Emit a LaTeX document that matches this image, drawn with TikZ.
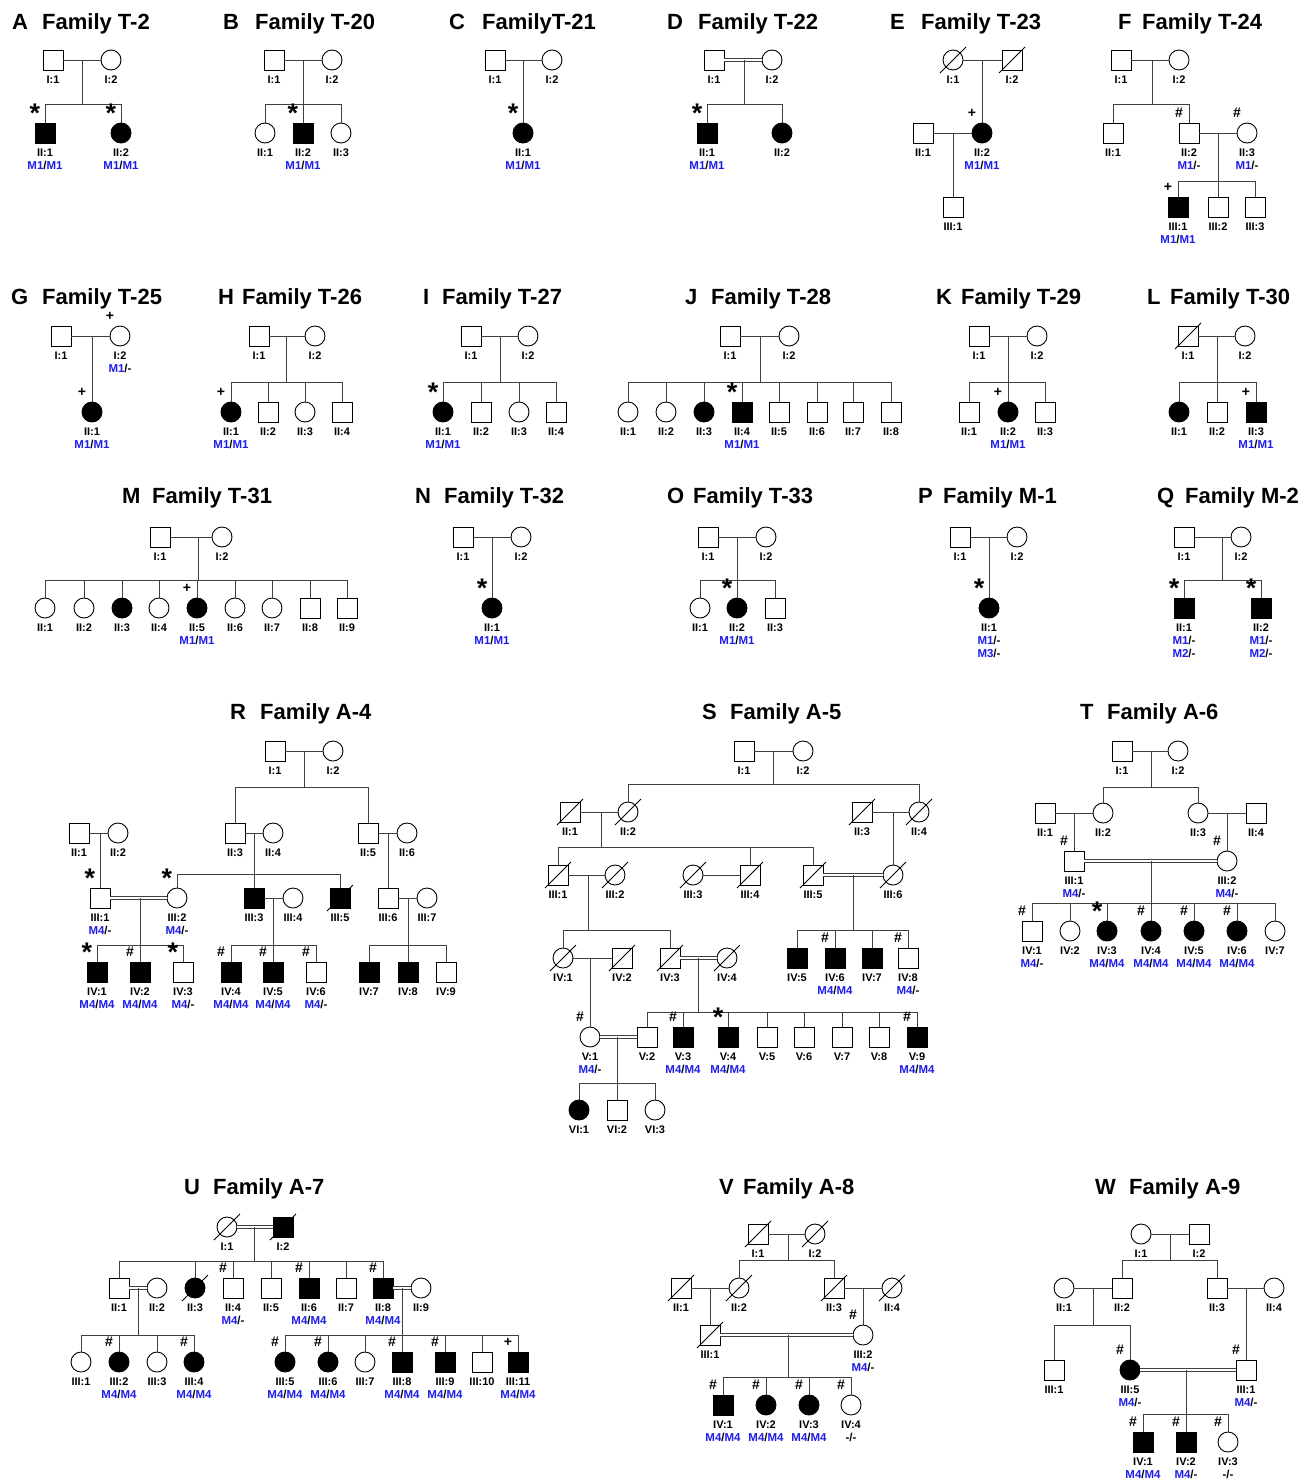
\documentclass[tikz,border=0pt]{standalone}
\usepackage{fontspec}
\setmainfont{Liberation Sans}
\usetikzlibrary{calc}
\definecolor{gb}{RGB}{30,30,235}
\newcommand\Lf{\fontsize{11}{11}\selectfont\bfseries}
\newcommand\Gf{\fontsize{11.5}{11.5}\selectfont\bfseries}
\newcommand\Tf{\fontsize{22}{22}\selectfont\bfseries}
\newcommand\HA{\textcolor{gb}{M1}/\textcolor{gb}{M1}}
\newcommand\hA{\textcolor{gb}{M1}/-}
\newcommand\HD{\textcolor{gb}{M4}/\textcolor{gb}{M4}}
\newcommand\hD{\textcolor{gb}{M4}/-}
\newcommand\St{{\fontsize{27}{27}\selectfont *}}
\tikzset{
 sym/.style={draw=black,line width=0.9pt,fill=white,inner sep=0pt,outer sep=0pt},
 male/.style={sym,rectangle,minimum size=20pt},
 female/.style={sym,circle,minimum size=20pt},
 aff/.style={fill=black},
 ln/.style={line width=0.8pt,draw=black!75},
 cons/.style={ln,double,double distance=2pt},
 lab/.style={font=\Lf,inner sep=0pt,anchor=base},
 gen/.style={font=\Gf,inner sep=0pt,anchor=base},
 mk/.style={inner sep=0pt,font=\fontsize{14}{14}\selectfont\bfseries},
 ttl/.style={font=\Tf,inner sep=0pt,anchor=base west},
 dl/.style={line width=0.8pt,draw=black}
}
\newcommand\Ma[4][]{\node[male,#1] (#2) at (#3) {};\node[lab] (#2l) at ($(#2.center)+(0,23.5)$) {#4};}
\newcommand\Fe[4][]{\node[female,#1] (#2) at (#3) {};\node[lab] (#2l) at ($(#2.center)+(0,23.5)$) {#4};}
\newcommand\Ge[2]{\node[gen] (#1g) at ($(#1.center)+(0,36.5)$) {#2};}
\newcommand\Gb[2]{\node[gen] (#1h) at ($(#1.center)+(0,49)$) {#2};}
\newcommand\Mk[2]{\node[mk] (#1m) at ($(#1.center)+(-10,-20)$) {#2};}
\newcommand\Dead[1]{\draw[dl] ($(#1.center)+(-13,13)$) -- ($(#1.center)+(13,-13)$);}
\newcommand\Fam[5]{\coordinate (#1) at (#2,#3);\coordinate (#1s) at (#2,#4);\draw[ln] (#1) -- (#1s);\foreach \c in {#5}{\draw[ln] (\c.north) |- (#1s);}}
\newcommand\Des[4]{\coordinate (#1) at (#2,#3);\draw[ln] (#1) -- (#4.north);}
\newcommand\Mar[2]{\draw[ln] (#1) -- (#2);}
\newcommand\Con[2]{\draw[cons] (#1) -- (#2);}
\newcommand\Ttl[6]{\node[ttl] (#1a) at (#2,#6) {#3};\node[ttl] (#1b) at (#4,#6) {#5};}
\begin{document}
\begin{tikzpicture}[x=1pt,y=-1pt]
\fill[white] (0,0) rectangle (1312,1481);
\useasboundingbox (0,0) rectangle (1312,1481);
% ---------------- A
\Ttl{A}{12}{A}{42}{Family T-2}{29}
\Ma{aI1}{53,60}{I:1}\Fe{aI2}{111,60}{I:2}
\Ma[aff]{aII1}{45,133}{II:1}\Fe[aff]{aII2}{121,133}{II:2}
\Mar{aI1}{aI2}\Fam{aD}{82}{60}{104}{aII1,aII2}
\Mk{aII1}{\St}\Mk{aII2}{\St}\Ge{aII1}{\HA}\Ge{aII2}{\HA}
% ---------------- B
\Ttl{B}{223}{B}{255}{Family T-20}{29}
\Ma{bI1}{274,60}{I:1}\Fe{bI2}{332,60}{I:2}
\Fe{bII1}{265,133}{II:1}\Ma[aff]{bII2}{303,133}{II:2}\Fe{bII3}{341,133}{II:3}
\Mar{bI1}{bI2}\Fam{bD}{303}{60}{104}{bII1,bII2,bII3}
\Mk{bII2}{\St}\Ge{bII2}{\HA}
% ---------------- C
\Ttl{C}{449}{C}{482}{FamilyT-21}{29}
\Ma{cI1}{495,60}{I:1}\Fe{cI2}{552,60}{I:2}\Fe[aff]{cII1}{523,133}{II:1}
\Mar{cI1}{cI2}\Des{cD}{523}{60}{cII1}
\Mk{cII1}{\St}\Ge{cII1}{\HA}
% ---------------- D
\Ttl{D}{667}{D}{698}{Family T-22}{29}
\Ma{dI1}{714,60}{I:1}\Fe{dI2}{772,60}{I:2}
\Ma[aff]{dII1}{707,133}{II:1}\Fe[aff]{dII2}{782,133}{II:2}
\Con{dI1}{dI2}\Fam{dD}{744}{60}{104}{dII1,dII2}
\Mk{dII1}{\St}\Ge{dII1}{\HA}
% ---------------- E
\Ttl{E}{890}{E}{921}{Family T-23}{29}
\Fe{eI1}{953,60}{I:1}\Ma{eI2}{1012,60}{I:2}
\Ma{eII1}{923,133}{II:1}\Fe[aff]{eII2}{982,133}{II:2}\Ma{eIII1}{953,207}{III:1}
\Dead{eI1}\Dead{eI2}
\Mar{eI1}{eI2}\Des{eD}{982}{60}{eII2}\Mar{eII1}{eII2}\Des{eDb}{953}{133}{eIII1}
\Mk{eII2}{+}\Ge{eII2}{\HA}
% ---------------- F
\Ttl{F}{1118}{F}{1142}{Family T-24}{29}
\Ma{fI1}{1121,60}{I:1}\Fe{fI2}{1179,60}{I:2}
\Ma{fII1}{1113,133}{II:1}\Ma{fII2}{1189,133}{II:2}\Fe{fII3}{1247,133}{II:3}
\Ma[aff]{fIII1}{1178,207}{III:1}\Ma{fIII2}{1218,207}{III:2}\Ma{fIII3}{1255,207}{III:3}
\Mar{fI1}{fI2}\Fam{fD}{1152}{60}{104}{fII1,fII2}
\Mar{fII2}{fII3}\Fam{fDb}{1218}{133}{181}{fIII1,fIII2,fIII3}
\Mk{fII2}{\#}\Mk{fII3}{\#}\Mk{fIII1}{+}
\Ge{fII2}{\hA}\Ge{fII3}{\hA}\Ge{fIII1}{\HA}
% ---------------- G
\Ttl{G}{11}{G}{42}{Family T-25}{304}
\Ma{gI1}{61,336}{I:1}\Fe{gI2}{120,336}{I:2}\Fe[aff]{gII1}{92,412}{II:1}
\Mar{gI1}{gI2}\Des{gD}{92}{336}{gII1}
\Mk{gI2}{+}\Mk{gII1}{+}\Ge{gI2}{\hA}\Ge{gII1}{\HA}
% ---------------- H
\Ttl{H}{218}{H}{242}{Family T-26}{304}
\Ma{hI1}{259,336}{I:1}\Fe{hI2}{315,336}{I:2}
\Fe[aff]{hII1}{231,412}{II:1}\Ma{hII2}{268,412}{II:2}\Fe{hII3}{305,412}{II:3}\Ma{hII4}{342,412}{II:4}
\Mar{hI1}{hI2}\Fam{hD}{286}{336}{382}{hII1,hII2,hII3,hII4}
\Mk{hII1}{+}\Ge{hII1}{\HA}
% ---------------- I
\Ttl{I}{423}{I}{442}{Family T-27}{304}
\Ma{iI1}{471,336}{I:1}\Fe{iI2}{528,336}{I:2}
\Fe[aff]{iII1}{443,412}{II:1}\Ma{iII2}{481,412}{II:2}\Fe{iII3}{519,412}{II:3}\Ma{iII4}{556,412}{II:4}
\Mar{iI1}{iI2}\Fam{iD}{500}{336}{382}{iII1,iII2,iII3,iII4}
\Mk{iII1}{\St}\Ge{iII1}{\HA}
% ---------------- J
\Ttl{J}{685}{J}{711}{Family T-28}{304}
\Ma{jI1}{730,336}{I:1}\Fe{jI2}{789,336}{I:2}
\Fe{jII1}{628,412}{II:1}\Fe{jII2}{666,412}{II:2}\Fe[aff]{jII3}{704,412}{II:3}\Ma[aff]{jII4}{742,412}{II:4}
\Ma{jII5}{779,412}{II:5}\Ma{jII6}{817,412}{II:6}\Ma{jII7}{853,412}{II:7}\Ma{jII8}{891,412}{II:8}
\Mar{jI1}{jI2}\Fam{jD}{760}{336}{382}{jII1,jII2,jII3,jII4,jII5,jII6,jII7,jII8}
\Mk{jII4}{\St}\Ge{jII4}{\HA}
% ---------------- K
\Ttl{K}{936}{K}{961}{Family T-29}{304}
\Ma{kI1}{979,336}{I:1}\Fe{kI2}{1037,336}{I:2}
\Ma{kII1}{969,412}{II:1}\Fe[aff]{kII2}{1008,412}{II:2}\Ma{kII3}{1045,412}{II:3}
\Mar{kI1}{kI2}\Fam{kD}{1008}{336}{382}{kII1,kII2,kII3}
\Mk{kII2}{+}\Ge{kII2}{\HA}
% ---------------- L
\Ttl{L}{1147}{L}{1170}{Family T-30}{304}
\Ma{lI1}{1188,336}{I:1}\Fe{lI2}{1245,336}{I:2}
\Fe[aff]{lII1}{1179,412}{II:1}\Ma{lII2}{1217,412}{II:2}\Ma[aff]{lII3}{1256,412}{II:3}
\Dead{lI1}\Mar{lI1}{lI2}\Fam{lD}{1217}{336}{382}{lII1,lII2,lII3}
\Mk{lII3}{+}\Ge{lII3}{\HA}
% ---------------- M
\Ttl{M}{122}{M}{152}{Family T-31}{503}
\Ma{mI1}{160,537}{I:1}\Fe{mI2}{222,537}{I:2}
\Fe{mII1}{45,608}{II:1}\Fe{mII2}{84,608}{II:2}\Fe[aff]{mII3}{122,608}{II:3}\Fe{mII4}{159,608}{II:4}
\Fe[aff]{mII5}{197,608}{II:5}\Fe{mII6}{235,608}{II:6}\Fe{mII7}{272,608}{II:7}\Ma{mII8}{310,608}{II:8}\Ma{mII9}{347,608}{II:9}
\Mar{mI1}{mI2}\Fam{mD}{198}{537}{580}{mII1,mII2,mII3,mII4,mII5,mII6,mII7,mII8,mII9}
\Mk{mII5}{+}\Ge{mII5}{\HA}
% ---------------- N
\Ttl{N}{415}{N}{444}{Family T-32}{503}
\Ma{nI1}{463,537}{I:1}\Fe{nI2}{521,537}{I:2}\Fe[aff]{nII1}{492,608}{II:1}
\Mar{nI1}{nI2}\Des{nD}{492}{537}{nII1}
\Mk{nII1}{\St}\Ge{nII1}{\HA}
% ---------------- O
\Ttl{O}{667}{O}{693}{Family T-33}{503}
\Ma{oI1}{708,537}{I:1}\Fe{oI2}{766,537}{I:2}
\Fe{oII1}{700,608}{II:1}\Fe[aff]{oII2}{737,608}{II:2}\Ma{oII3}{775,608}{II:3}
\Mar{oI1}{oI2}\Fam{oD}{737}{537}{580}{oII1,oII2,oII3}
\Mk{oII2}{\St}\Ge{oII2}{\HA}
% ---------------- P
\Ttl{P}{918}{P}{943}{Family M-1}{503}
\Ma{pI1}{960,537}{I:1}\Fe{pI2}{1017,537}{I:2}\Fe[aff]{pII1}{989,608}{II:1}
\Mar{pI1}{pI2}\Des{pD}{989}{537}{pII1}
\Mk{pII1}{\St}\Ge{pII1}{\hA}\Gb{pII1}{\textcolor{gb}{M3}/-}
% ---------------- Q
\Ttl{Q}{1157}{Q}{1185}{Family M-2}{503}
\Ma{qI1}{1184,537}{I:1}\Fe{qI2}{1241,537}{I:2}
\Ma[aff]{qII1}{1184,608}{II:1}\Ma[aff]{qII2}{1261,608}{II:2}
\Mar{qI1}{qI2}\Fam{qD}{1222}{537}{580}{qII1,qII2}
\Mk{qII1}{\St}\Mk{qII2}{\St}
\Ge{qII1}{\hA}\Gb{qII1}{\textcolor{gb}{M2}/-}\Ge{qII2}{\hA}\Gb{qII2}{\textcolor{gb}{M2}/-}
% ---------------- R
\Ttl{R}{230}{R}{260}{Family A-4}{719}
\Ma{rI1}{275,751}{I:1}\Fe{rI2}{333,751}{I:2}
\Ma{rII1}{79,833}{II:1}\Fe{rII2}{118,833}{II:2}\Ma{rII3}{235,833}{II:3}\Fe{rII4}{273,833}{II:4}
\Ma{rII5}{368,833}{II:5}\Fe{rII6}{407,833}{II:6}
\Ma{rIII1}{100,898}{III:1}\Fe{rIII2}{177,898}{III:2}\Ma[aff]{rIII3}{254,898}{III:3}\Fe{rIII4}{293,898}{III:4}
\Ma[aff]{rIII5}{340,898}{III:5}\Ma{rIII6}{388,898}{III:6}\Fe{rIII7}{427,898}{III:7}
\Ma[aff]{rIV1}{97,972}{IV:1}\Ma[aff]{rIV2}{140,972}{IV:2}\Ma{rIV3}{183,972}{IV:3}
\Ma[aff]{rIV4}{231,972}{IV:4}\Ma[aff]{rIV5}{273,972}{IV:5}\Ma{rIV6}{316,972}{IV:6}
\Ma[aff]{rIV7}{369,972}{IV:7}\Ma[aff]{rIV8}{408,972}{IV:8}\Ma{rIV9}{446,972}{IV:9}
\Dead{rIII5}
\Mar{rI1}{rI2}\Fam{rD}{304}{751}{787}{rII3,rII5}
\Mar{rII1}{rII2}\Des{rDa}{100}{833}{rIII1}
\Mar{rII3}{rII4}\Fam{rDb}{254}{833}{874}{rIII2,rIII3,rIII5}
\Mar{rII5}{rII6}\Des{rDc}{388}{833}{rIII6}
\Con{rIII1}{rIII2}\Fam{rDd}{140}{898}{945}{rIV1,rIV2,rIV3}
\Mar{rIII3}{rIII4}\Fam{rDe}{273}{898}{945}{rIV4,rIV5,rIV6}
\Mar{rIII6}{rIII7}\Fam{rDf}{408}{898}{945}{rIV7,rIV8,rIV9}
\Mk{rIII1}{\St}\Mk{rIII2}{\St}\Mk{rIV1}{\St}\Mk{rIV2}{\#}\Mk{rIV3}{\St}\Mk{rIV4}{\#}\Mk{rIV5}{\#}\Mk{rIV6}{\#}
\Ge{rIII1}{\hD}\Ge{rIII2}{\hD}\Ge{rIV1}{\HD}\Ge{rIV2}{\HD}\Ge{rIV3}{\hD}\Ge{rIV4}{\HD}\Ge{rIV5}{\HD}\Ge{rIV6}{\hD}
% ---------------- S
\Ttl{S}{702}{S}{730}{Family A-5}{719}
\Ma{sI1}{744,751}{I:1}\Fe{sI2}{803,751}{I:2}
\Ma{sII1}{570,812}{II:1}\Fe{sII2}{628,812}{II:2}\Ma{sII3}{862,812}{II:3}\Fe{sII4}{919,812}{II:4}
\Ma{sIII1}{558,875}{III:1}\Fe{sIII2}{615,875}{III:2}\Fe{sIII3}{693,875}{III:3}\Ma{sIII4}{750,875}{III:4}
\Ma{sIII5}{813,875}{III:5}\Fe{sIII6}{893,875}{III:6}
\Fe{sIV1}{563,958}{IV:1}\Ma{sIV2}{622,958}{IV:2}\Ma{sIV3}{670,958}{IV:3}\Fe{sIV4}{727,958}{IV:4}
\Ma[aff]{sIV5}{797,958}{IV:5}\Ma[aff]{sIV6}{835,958}{IV:6}\Ma[aff]{sIV7}{872,958}{IV:7}\Ma{sIV8}{908,958}{IV:8}
\Fe{sV1}{590,1037}{V:1}\Ma{sV2}{647,1037}{V:2}\Ma[aff]{sV3}{683,1037}{V:3}\Ma[aff]{sV4}{728,1037}{V:4}
\Ma{sV5}{767,1037}{V:5}\Ma{sV6}{804,1037}{V:6}\Ma{sV7}{842,1037}{V:7}\Ma{sV8}{879,1037}{V:8}\Ma[aff]{sV9}{917,1037}{V:9}
\Fe[aff]{sVI1}{579,1110}{VI:1}\Ma{sVI2}{617,1110}{VI:2}\Fe{sVI3}{655,1110}{VI:3}
\Dead{sII1}\Dead{sII2}\Dead{sII3}\Dead{sII4}
\Dead{sIII1}\Dead{sIII2}\Dead{sIII3}\Dead{sIII4}\Dead{sIII5}\Dead{sIII6}
\Dead{sIV1}\Dead{sIV2}\Dead{sIV3}\Dead{sIV4}
\Mar{sI1}{sI2}\Fam{sD}{773}{751}{784}{sII2,sII4}
\Mar{sII1}{sII2}\Fam{sDa}{601}{812}{847}{sIII1,sIII4,sIII5}
\Mar{sII3}{sII4}\Des{sDb}{893}{812}{sIII6}
\Mar{sIII1}{sIII2}\Fam{sDc}{588}{875}{930}{sIV1,sIV3}
\Mar{sIII3}{sIII4}
\Con{sIII5}{sIII6}\Fam{sDd}{853}{875}{930}{sIV5,sIV6,sIV7,sIV8}
\Mar{sIV1}{sIV2}\Des{sDe}{590}{958}{sV1}
\Con{sIV3}{sIV4}\Fam{sDf}{698}{958}{1012}{sV2,sV3,sV4,sV5,sV6,sV7,sV8,sV9}
\Con{sV1}{sV2}\Fam{sDg}{617}{1037}{1083}{sVI1,sVI2,sVI3}
\Mk{sIV6}{\#}\Mk{sIV8}{\#}\Mk{sV1}{\#}\Mk{sV3}{\#}\Mk{sV4}{\St}\Mk{sV9}{\#}
\Ge{sIV6}{\HD}\Ge{sIV8}{\hD}\Ge{sV1}{\hD}\Ge{sV3}{\HD}\Ge{sV4}{\HD}\Ge{sV9}{\HD}
% ---------------- T
\Ttl{T}{1080}{T}{1107}{Family A-6}{719}
\Ma{tI1}{1122,751}{I:1}\Fe{tI2}{1178,751}{I:2}
\Ma{tII1}{1045,813}{II:1}\Fe{tII2}{1103,813}{II:2}\Fe{tII3}{1198,813}{II:3}\Ma{tII4}{1256,813}{II:4}
\Ma{tIII1}{1074,861}{III:1}\Fe{tIII2}{1227,861}{III:2}
\Ma{tIV1}{1032,931}{IV:1}\Fe{tIV2}{1070,931}{IV:2}\Fe[aff]{tIV3}{1107,931}{IV:3}\Fe[aff]{tIV4}{1151,931}{IV:4}
\Fe[aff]{tIV5}{1194,931}{IV:5}\Fe[aff]{tIV6}{1237,931}{IV:6}\Fe{tIV7}{1275,931}{IV:7}
\Mar{tI1}{tI2}\Fam{tD}{1151}{751}{787}{tII2,tII3}
\Mar{tII1}{tII2}\Des{tDa}{1074}{813}{tIII1}
\Mar{tII3}{tII4}\Des{tDb}{1227}{813}{tIII2}
\Con{tIII1}{tIII2}\Fam{tDc}{1151}{861}{903}{tIV1,tIV2,tIV3,tIV4,tIV5,tIV6,tIV7}
\Mk{tIII1}{\#}\Mk{tIII2}{\#}\Mk{tIV1}{\#}\Mk{tIV3}{\St}\Mk{tIV4}{\#}\Mk{tIV5}{\#}\Mk{tIV6}{\#}
\Ge{tIII1}{\hD}\Ge{tIII2}{\hD}\Ge{tIV1}{\hD}\Ge{tIV3}{\HD}\Ge{tIV4}{\HD}\Ge{tIV5}{\HD}\Ge{tIV6}{\HD}
% ---------------- U
\Ttl{U}{184}{U}{213}{Family A-7}{1194}
\Fe{uI1}{227,1227}{I:1}\Ma[aff]{uI2}{283,1227}{I:2}
\Ma{uII1}{119,1288}{II:1}\Fe{uII2}{157,1288}{II:2}\Fe[aff]{uII3}{195,1288}{II:3}\Ma{uII4}{233,1288}{II:4}
\Ma{uII5}{271,1288}{II:5}\Ma[aff]{uII6}{309,1288}{II:6}\Ma{uII7}{346,1288}{II:7}\Ma[aff]{uII8}{383,1288}{II:8}\Fe{uII9}{421,1288}{II:9}
\Fe{uIII1}{81,1362}{III:1}\Fe[aff]{uIII2}{119,1362}{III:2}\Fe{uIII3}{157,1362}{III:3}\Fe[aff]{uIII4}{194,1362}{III:4}
\Fe[aff]{uIII5}{285,1362}{III:5}\Fe[aff]{uIII6}{328,1362}{III:6}\Fe{uIII7}{365,1362}{III:7}\Ma[aff]{uIII8}{402,1362}{III:8}
\Ma[aff]{uIII9}{445,1362}{III:9}\Ma{uIII10}{482,1362}{III:10}\Ma[aff]{uIII11}{518,1362}{III:11}
\Dead{uI1}\Dead{uI2}\Dead{uII3}
\Con{uI1}{uI2}\Fam{uD}{254}{1227}{1261}{uII1,uII3,uII4,uII5,uII6,uII7,uII8}
\Con{uII1}{uII2}\Fam{uDa}{138}{1288}{1335}{uIII1,uIII2,uIII3,uIII4}
\Con{uII8}{uII9}\Fam{uDb}{402}{1288}{1335}{uIII5,uIII6,uIII7,uIII8,uIII9,uIII10,uIII11}
\Mk{uII4}{\#}\Mk{uII6}{\#}\Mk{uII8}{\#}\Mk{uIII2}{\#}\Mk{uIII4}{\#}\Mk{uIII5}{\#}\Mk{uIII6}{\#}\Mk{uIII8}{\#}\Mk{uIII9}{\#}\Mk{uIII11}{+}
\Ge{uII4}{\hD}\Ge{uII6}{\HD}\Ge{uII8}{\HD}\Ge{uIII2}{\HD}\Ge{uIII4}{\HD}\Ge{uIII5}{\HD}\Ge{uIII6}{\HD}\Ge{uIII8}{\HD}\Ge{uIII9}{\HD}\Ge{uIII11}{\HD}
% ---------------- V
\Ttl{V}{719}{V}{743}{Family A-8}{1194}
\Ma{vI1}{758,1234}{I:1}\Fe{vI2}{815,1234}{I:2}
\Ma{vII1}{681,1288}{II:1}\Fe{vII2}{739,1288}{II:2}\Ma{vII3}{834,1288}{II:3}\Fe{vII4}{892,1288}{II:4}
\Ma{vIII1}{710,1335}{III:1}\Fe{vIII2}{863,1335}{III:2}
\Ma[aff]{vIV1}{723,1405}{IV:1}\Fe[aff]{vIV2}{766,1405}{IV:2}\Fe[aff]{vIV3}{809,1405}{IV:3}\Fe{vIV4}{851,1405}{IV:4}
\Dead{vI1}\Dead{vI2}\Dead{vII1}\Dead{vII2}\Dead{vII3}\Dead{vII4}\Dead{vIII1}
\Mar{vI1}{vI2}\Fam{vD}{788}{1234}{1260}{vII2,vII3}
\Mar{vII1}{vII2}\Des{vDa}{710}{1288}{vIII1}
\Mar{vII3}{vII4}\Des{vDb}{863}{1288}{vIII2}
\Con{vIII1}{vIII2}\Fam{vDc}{788}{1335}{1377}{vIV1,vIV2,vIV3,vIV4}
\Mk{vIII2}{\#}\Mk{vIV1}{\#}\Mk{vIV2}{\#}\Mk{vIV3}{\#}\Mk{vIV4}{\#}
\Ge{vIII2}{\hD}\Ge{vIV1}{\HD}\Ge{vIV2}{\HD}\Ge{vIV3}{\HD}\Ge{vIV4}{-/-}
% ---------------- W
\Ttl{W}{1095}{W}{1129}{Family A-9}{1194}
\Fe{wI1}{1141,1234}{I:1}\Ma{wI2}{1199,1234}{I:2}
\Fe{wII1}{1064,1288}{II:1}\Ma{wII2}{1122,1288}{II:2}\Ma{wII3}{1217,1288}{II:3}\Fe{wII4}{1274,1288}{II:4}
\Ma{wIII1}{1054,1370}{III:1}\Fe[aff]{wIII5}{1130,1370}{III:5}\Ma{wIIIb}{1246,1370}{III:1}
\Ma[aff]{wIV1}{1143,1442}{IV:1}\Ma[aff]{wIV2}{1186,1442}{IV:2}\Fe{wIV3}{1228,1442}{IV:3}
\Mar{wI1}{wI2}\Fam{wD}{1170}{1234}{1260}{wII2,wII3}
\Mar{wII1}{wII2}\Fam{wDa}{1093}{1288}{1325}{wIII1,wIII5}
\Mar{wII3}{wII4}\Des{wDb}{1246}{1288}{wIIIb}
\Con{wIII5}{wIIIb}\Fam{wDc}{1186}{1370}{1414}{wIV1,wIV2,wIV3}
\Mk{wIII5}{\#}\Mk{wIIIb}{\#}\Mk{wIV1}{\#}\Mk{wIV2}{\#}\Mk{wIV3}{\#}
\Ge{wIII5}{\hD}\Ge{wIIIb}{\hD}\Ge{wIV1}{\HD}\Ge{wIV2}{\hD}\Ge{wIV3}{-/-}
\end{tikzpicture}
\end{document}
